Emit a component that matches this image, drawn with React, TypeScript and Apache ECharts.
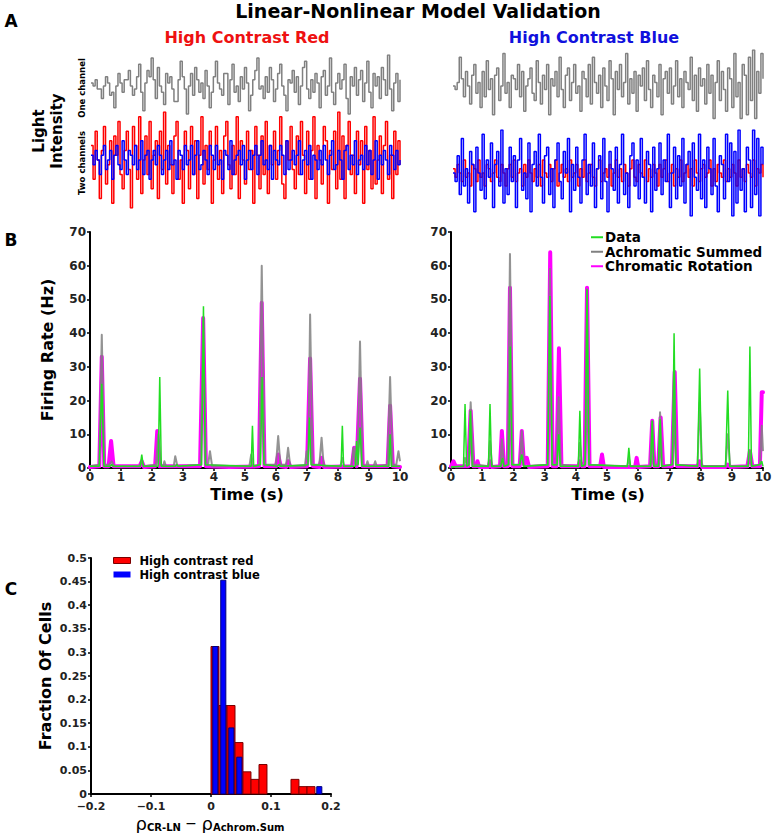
import React, { useEffect, useRef } from "react";
import * as echarts from "echarts";

const FONT = "DejaVu Sans";

// ---------- Panel A: stimulus traces (arbitrary units, -10..10) ----------
const A_LEFT_ONE = [
  1,0,2,-1,-1,-4,0,3,1,-3, -2,-7,0,4,1,-2,2,2,5,0, -3,-1,3,7,-2,-8,1,5,3,9,
  2,-4,6,0,-2,-6,4,1,3,-1, -5,-5,2,8,3,-1,-9,0,4,-3, 6,2,-2,1,-4,5,0,-7,-2,3,
  8,1,-1,-3,4,4,-6,2,7,-2, 0,-5,3,-1,6,1,-8,-3,2,5, 9,-1,0,-4,3,-2,6,2,-5,-1,
  4,7,0,-3,-8,2,1,5,-2,3, -6,0,6,8,-1,-4,2,-2,4,1, -7,3,5,-3,0,9,-2,-6,1,4,
  -1,2,7,-4,-9,3,0,6,-3,2, 5,-5,1,8,-2,-7,4,0,3,-4, 6,2,-3,10,-1,-8,1,4,-5,2,
];
const A_LEFT_RED = [
  3,-4,6,0,-8,2,7,-5,-1,4, -9,5,1,8,-3,-6,2,6,-2,-10, 7,3,-4,9,-7,0,5,-3,8,-6,
  1,4,-8,6,-2,10,-5,3,-1,-7, 5,8,-4,0,-9,6,2,-6,7,-3, 4,-8,1,9,-5,3,-2,6,-9,0,
  7,-4,2,-7,5,8,-1,-6,3,-3, 9,-8,4,0,-5,6,-2,2,-9,7, 1,-6,5,-3,8,-7,3,-1,6,-4,
  2,9,-5,-8,4,0,7,-2,-6,5, -3,8,1,-7,6,-4,2,9,-8,3, 0,-5,7,4,-9,2,-2,6,-6,10,
  -4,5,-8,3,8,-3,1,-7,6,-1, 4,-9,7,-2,2,-6,9,-5,0,5, -7,3,8,-4,1,-8,6,-3,4,-1,
];
const A_LEFT_BLUE = [
  1,-1,2,0,-3,1,3,-2,0,2, -4,1,3,-1,-2,4,0,-3,2,1, -1,3,-2,0,4,-3,1,2,-4,0,
  2,-1,3,1,-3,0,2,-2,4,-1, 0,-4,2,1,-2,3,-1,0,3,-3, 1,4,-2,-1,2,0,-3,3,1,-2,
  3,-1,0,-4,2,1,-2,4,-3,0, 1,2,-1,3,-4,0,2,-2,1,3, -3,1,4,-1,0,-2,3,-4,2,0,
  -1,3,1,-3,4,-2,0,2,-1,1, 4,-3,0,2,-1,3,-4,1,0,-2, 2,-1,3,0,-3,1,4,-2,-1,2,
  0,-4,2,3,-2,1,-1,4,-3,0, 1,-2,3,-1,2,-3,0,4,-4,1, -1,2,0,-3,3,1,-2,2,-1,0,
];
const A_RIGHT_ONE = [
  0,-1,1,8,2,-3,4,0,-5,3, 6,-2,1,-6,4,-3,7,-1,2,-8, 3,5,-4,0,9,-2,1,-6,3,2,
  -1,6,-3,4,-7,0,2,5,-2,-4, 7,1,-5,3,-1,6,-8,2,0,4, -3,8,-1,-6,3,5,-4,1,6,-2,
  0,-7,4,2,-3,6,-5,8,1,-2, 3,-6,5,0,-4,7,2,-8,4,-1, 6,-3,1,9,-5,2,-2,4,-7,3,
  0,5,-4,7,-1,-6,3,1,-3,6, -8,2,4,-2,5,-5,0,7,-3,2, -6,4,1,-1,8,-4,3,-7,5,0,
  2,-5,6,-2,3,-9,1,7,-4,4, -1,-7,5,2,-6,9,-3,1,-9,6, 3,-8,8,-4,10,-9,4,-2,9,2,
];
const A_RIGHT_RED = [
  1,-1,2,0,-2,3,-1,0,-3,2, 1,-2,3,-1,0,-3,2,1,-2,0, 3,-1,-2,2,0,-3,1,2,-1,3,
  -2,0,1,-3,2,-1,3,0,-2,1, -1,2,-3,3,0,-1,2,-2,1,3, -3,0,2,-1,1,-2,3,-1,0,2,
  -3,1,-1,3,-2,0,2,-1,-3,1, 3,-2,0,1,-1,2,-3,0,3,-1, 1,-2,2,0,-3,1,3,-1,-2,2,
  0,-1,3,-2,1,-1,2,0,-3,2, -1,1,3,-2,0,2,-3,1,-1,3, -2,0,2,-1,1,-3,3,0,-2,1,
  2,-1,0,3,-3,1,-2,2,0,-1, 3,-2,1,-1,2,0,-3,3,-1,1, -2,2,0,-1,3,-3,1,0,2,-1,
];
const A_RIGHT_BLUE = [
  0,-2,4,-5,8,-3,1,-7,5,2, -9,6,0,-4,9,-6,3,-1,7,-8, 2,5,-3,10,-7,1,-5,6,-2,4,
  -8,3,8,-4,0,-6,7,-9,2,5, -3,9,-1,-7,4,6,-5,1,-8,3, 7,-2,-6,5,0,8,-9,2,-4,6,
  -1,-7,3,9,-5,2,-3,7,-8,1, 4,-6,8,-2,-9,5,1,-4,6,-7, 2,9,-5,0,-8,4,7,-3,3,-6,
  8,-1,-7,5,2,-9,6,-4,1,7, -5,3,-2,9,-8,0,6,-6,4,-3, 8,-7,2,5,-10,7,-1,-4,9,-6,
  3,-8,6,1,-5,8,-3,-9,4,2, -6,9,-2,7,-10,5,-7,10,-4,1, -9,6,3,-8,10,-5,8,-10,6,2,
];

// ---------- Panel B: firing rate (Hz) vs time (s) ----------
const B_LEFT_DATA = [[0,0.5],[0.3,0.5],[0.38,25],[0.45,0.5],[0.65,0.5],[0.7,1],[0.75,0.5],[1.62,0.5],[1.67,4],[1.72,0.5],[2.2,0.5],[2.25,27],[2.3,0.5],[2.75,0.5],[2.8,1],[2.85,0.5],[3.6,1],[3.66,48],[3.72,1],[5.2,0.5],[5.24,12.5],[5.28,0.5],[5.5,1],[5.55,27],[5.61,1],[6.05,0.5],[6.1,1],[6.15,0.5],[7.03,1],[7.08,15],[7.13,1],[8.1,0.5],[8.14,12.5],[8.18,0.5],[8.56,0.5],[8.6,8],[8.65,1],[8.71,12],[8.77,0.5],[9.64,0.5],[9.68,10],[9.72,0.5],[10,0.5]];
const B_LEFT_ACH = [[0,0.5],[0.3,1],[0.38,39.5],[0.46,1],[0.62,1],[0.7,2],[0.78,0.5],[1.6,0.5],[1.67,2],[1.74,0.5],[2.13,1],[2.2,10],[2.28,1],[2.36,0.5],[2.4,2],[2.45,0.5],[2.7,0.5],[2.75,3.5],[2.82,0.5],[3.57,1],[3.65,44.5],[3.74,1],[3.81,1],[3.87,5],[3.94,0.5],[5.14,0.5],[5.2,4],[5.27,0.5],[5.46,1],[5.54,60],[5.63,1],[6.0,1],[6.07,9.5],[6.14,1],[6.33,1],[6.39,6],[6.46,0.5],[6.93,0.5],[6.99,5],[7.04,2],[7.1,45.5],[7.18,1],[7.4,1],[7.47,9],[7.54,0.5],[8.08,0.5],[8.14,3],[8.2,0.5],[8.44,0.5],[8.5,6],[8.57,1],[8.63,1],[8.71,37.5],[8.79,1],[8.9,0.5],[8.95,2],[9.0,0.5],[9.15,0.5],[9.2,2],[9.25,0.5],[9.6,1],[9.68,27],[9.76,1],[9.88,1],[9.95,5],[10,2]];
const B_LEFT_CR = [[0,0.3],[0.3,0.5],[0.38,33],[0.46,0.5],[0.6,0.5],[0.68,8],[0.76,0.5],[1.6,0.5],[1.67,2],[1.74,0.3],[2.1,0.5],[2.17,11],[2.25,0.5],[3.55,0.5],[3.65,44.5],[3.74,0.5],[4.5,0.3],[5.45,0.5],[5.54,49],[5.63,0.5],[6.0,0.5],[6.07,4],[6.15,0.5],[6.33,0.3],[6.39,2],[6.47,0.3],[7.0,0.5],[7.1,32.5],[7.19,0.5],[7.4,0.3],[7.47,3],[7.55,0.3],[8.45,0.5],[8.52,6],[8.6,0.5],[8.71,26.5],[8.8,0.5],[9.6,0.5],[9.68,18.5],[9.77,0.5],[10,0.3]];
const B_RIGHT_DATA = [[0,0.3],[0.4,0.5],[0.45,19],[0.5,0.5],[0.58,1],[0.62,17],[0.68,0.5],[1.2,0.5],[1.25,19],[1.3,0.5],[1.6,0.5],[1.65,3],[1.7,0.5],[1.85,1],[1.9,36],[1.95,1],[2.2,1],[2.27,4],[2.33,0.5],[3.1,1],[3.17,51],[3.24,1],[3.4,1],[3.45,10],[3.5,0.5],[4.08,0.5],[4.13,17],[4.18,0.5],[4.3,1],[4.36,53],[4.42,1],[5.65,0.5],[5.7,6],[5.75,0.5],[6.4,0.5],[6.45,14],[6.5,0.5],[6.65,0.5],[6.7,14.5],[6.75,0.5],[7.1,1],[7.15,40],[7.2,1],[7.9,0.5],[7.97,29.5],[8.03,0.5],[8.8,0.5],[8.87,23],[8.93,0.5],[9.53,0.5],[9.58,36],[9.63,0.5],[9.9,1],[9.96,2],[10,0.5]];
const B_RIGHT_ACH = [[0,0.3],[0.4,0.5],[0.45,3],[0.5,1],[0.56,1],[0.63,19.5],[0.72,1],[0.85,1],[1.2,0.5],[1.25,8],[1.32,0.5],[1.58,0.5],[1.63,8.5],[1.7,0.5],[1.82,1],[1.89,63.5],[1.97,1],[2.2,1],[2.27,11],[2.34,0.5],[3.1,1],[3.17,59],[3.25,1],[3.38,1],[3.45,21],[3.52,1],[4.08,0.5],[4.13,7.5],[4.2,0.5],[4.3,1],[4.36,53],[4.43,1],[5.65,0.5],[5.7,3],[5.75,0.5],[6.38,0.5],[6.45,14],[6.5,1],[6.65,1],[6.7,16.5],[6.78,0.5],[7.08,1],[7.15,29],[7.22,1],[7.9,0.5],[7.97,19.5],[8.05,0.5],[8.8,0.5],[8.87,10],[8.95,0.5],[9.5,0.5],[9.58,5],[9.65,0.5],[9.9,1],[9.96,12.5],[10,5]];
const B_RIGHT_CR = [[0,0.5],[0.08,2],[0.15,0.5],[0.55,0.5],[0.63,17],[0.72,0.5],[0.8,0.5],[0.85,2],[0.9,0.3],[1.2,0.3],[1.25,2],[1.3,0.3],[1.57,0.5],[1.63,11],[1.7,0.5],[1.82,0.5],[1.89,53.5],[1.97,0.5],[2.2,0.5],[2.27,11],[2.34,1],[2.43,3],[2.5,0.3],[3.1,0.5],[3.18,64],[3.26,0.5],[3.38,0.5],[3.46,35.5],[3.54,0.5],[4.08,0.5],[4.13,2],[4.2,0.5],[4.28,0.5],[4.36,53.5],[4.44,0.5],[4.78,0.5],[4.84,4],[4.9,0.3],[5.9,0.3],[5.95,3],[6.0,0.3],[6.38,0.5],[6.45,14],[6.52,0.5],[6.64,0.5],[6.72,15],[6.8,0.5],[7.08,0.5],[7.17,28.5],[7.25,0.5],[7.9,0.5],[7.97,2],[8.05,0.3],[8.8,0.3],[8.87,1],[8.95,0.3],[9.5,0.5],[9.58,5],[9.66,0.5],[9.9,0.5],[9.96,22.5],[10,22.5]];
const TIME_MAX = 10;
const RATE_MAX = 70;

// ---------- Panel C: histogram ----------
const BIN_WIDTH = 0.0133;
const BIN_STARTS = [0, 0.0133, 0.0267, 0.04, 0.0533, 0.0667, 0.08, 0.0933, 0.1067, 0.12, 0.1333, 0.1467, 0.16, 0.1733];
const RED_FRACTION = [0.3125, 0.1875, 0.1875, 0.109, 0.047, 0.031, 0.0625, 0, 0, 0, 0.031, 0.0156, 0.0156, 0];
const BLUE_FRACTION = [0.3125, 0.453, 0.14, 0.078, 0, 0, 0, 0, 0, 0, 0, 0, 0, 0.0156];

const GREEN = "#22dd22";
const GRAY = "#808080";
const MAGENTA = "#ff00ff";

function buildOption() {
  const aTraces = [
    { data: A_LEFT_ONE, grid: 0, color: GRAY },
    { data: A_LEFT_RED, grid: 1, color: "#ff0000" },
    { data: A_LEFT_BLUE, grid: 1, color: "#0000ff" },
    { data: A_RIGHT_ONE, grid: 2, color: GRAY },
    { data: A_RIGHT_RED, grid: 3, color: "#ff0000" },
    { data: A_RIGHT_BLUE, grid: 3, color: "#0000ff" },
  ];
  const grids = [
    { left: 91, top: 55, width: 309, height: 62 },
    { left: 91, top: 112, width: 309, height: 96 },
    { left: 453, top: 50, width: 310, height: 72 },
    { left: 453, top: 130, width: 310, height: 86 },
    { left: 90, top: 232, width: 310, height: 236 },
    { left: 451, top: 232, width: 312, height: 236 },
    { left: 91, top: 558, width: 240, height: 236 },
  ].map((g) => ({ ...g, outerBoundsMode: "none", containLabel: false }));

  const axisLine = { show: true, onZero: false, lineStyle: { color: "#000", width: 2 } };
  const axisTick = { show: true, length: 3, lineStyle: { color: "#000", width: 1.5 } };
  const tickLabel = (size: number) => ({ fontFamily: FONT, fontWeight: "bold", fontSize: size, color: "#222" });

  const xAxis: any[] = aTraces.map((t) => ({
    gridIndex: t.grid,
    type: "category",
    show: false,
    boundaryGap: false,
    data: t.data.map((_, k) => k),
  }));
  const yAxis: any[] = [0, 1, 2, 3].map((g) => ({ gridIndex: g, type: "value", show: false, min: -10, max: 10 }));

  [4, 5].forEach((g) => {
    xAxis.push({
      gridIndex: g, type: "value", min: 0, max: TIME_MAX, interval: 1,
      axisLine, axisTick, splitLine: { show: false },
      axisLabel: { ...tickLabel(12), margin: 3 },
    });
    yAxis.push({
      gridIndex: g, type: "value", min: 0, max: RATE_MAX, interval: 10,
      axisLine, axisTick, splitLine: { show: false },
      axisLabel: { ...tickLabel(12), margin: 4 },
    });
  });
  xAxis.push({
    gridIndex: 6, type: "value", min: -0.2, max: 0.2, interval: 0.1,
    axisLine, axisTick, splitLine: { show: false },
    axisLabel: { ...tickLabel(11), margin: 7, formatter: (v: number) => String(+v.toFixed(2)).replace("-", "\u2212") },
  });
  yAxis.push({
    gridIndex: 6, type: "value", min: 0, max: 0.5, interval: 0.05,
    axisLine, axisTick, splitLine: { show: false },
    axisLabel: { ...tickLabel(11), margin: 4, formatter: (v: number) => String(+v.toFixed(2)) },
  });

  const series: any[] = aTraces.map((t, i) => ({
    type: "line", xAxisIndex: i, yAxisIndex: t.grid, data: t.data, step: "end",
    showSymbol: false, silent: true,
    lineStyle: { color: t.color, width: 1.5 },
  }));

  const bPanels = [
    { x: 6, y: 4, cr: B_LEFT_CR, ach: B_LEFT_ACH, data: B_LEFT_DATA },
    { x: 7, y: 5, cr: B_RIGHT_CR, ach: B_RIGHT_ACH, data: B_RIGHT_DATA },
  ];
  bPanels.forEach((p) => {
    series.push({
      name: "Chromatic Rotation", type: "line", xAxisIndex: p.x, yAxisIndex: p.y, data: p.cr,
      showSymbol: false, itemStyle: { color: MAGENTA },
      lineStyle: { color: MAGENTA, width: 4, join: "round", cap: "round" },
    });
    series.push({
      name: "Achromatic Summed", type: "line", xAxisIndex: p.x, yAxisIndex: p.y, data: p.ach,
      showSymbol: false, itemStyle: { color: GRAY },
      lineStyle: { color: GRAY, width: 2, opacity: 0.85, join: "round" },
    });
    series.push({
      name: "Data", type: "line", xAxisIndex: p.x, yAxisIndex: p.y, data: p.data,
      showSymbol: false, itemStyle: { color: GREEN },
      lineStyle: { color: GREEN, width: 1.5 },
    });
  });

  const histBars = (fractions: number[], name: string, fill: string, stroke: string, from: number, to: number) => ({
    name, type: "custom", xAxisIndex: 8, yAxisIndex: 6,
    itemStyle: { color: fill, borderColor: stroke },
    encode: { x: 0, y: 1 },
    data: BIN_STARTS.map((s, i) => [s, fractions[i]]).filter((d) => d[1] > 0),
    renderItem: (params: any, api: any) => {
      const s = api.value(0);
      const v = api.value(1);
      const p0 = api.coord([s + BIN_WIDTH * from, 0]);
      const p1 = api.coord([s + BIN_WIDTH * to, v]);
      return {
        type: "rect",
        shape: { x: p0[0], y: p1[1], width: p1[0] - p0[0], height: p0[1] - p1[1] },
        style: { fill, stroke, lineWidth: 1 },
      };
    },
  });
  series.push(histBars(RED_FRACTION, "High contrast red", "#ff0000", "#7a0000", 0, 1));
  series.push(histBars(BLUE_FRACTION, "High contrast blue", "#0000ff", "#00007a", 0.22, 0.86));

  const txt = (text: string, x: number, y: number, size: number, opts: any = {}) => ({
    type: "text", x, y, rotation: opts.rotation || 0, silent: true,
    style: {
      text, fill: opts.color || "#000", fontFamily: FONT, fontWeight: opts.weight || "bold", fontSize: size,
      textAlign: "center", textVerticalAlign: "middle", align: "center", verticalAlign: "middle",
    },
  });
  const R = Math.PI / 2;
  const graphic = [
    txt("Linear-Nonlinear Model Validation", 418, 11, 19),
    txt("A", 11, 21, 17),
    txt("B", 11, 240, 17),
    txt("C", 11, 589, 17),
    txt("High Contrast Red", 247, 37, 16, { color: "#ee1111" }),
    txt("High Contrast Blue", 594, 37, 16, { color: "#1111dd" }),
    txt("Light", 39, 131, 15, { rotation: R }),
    txt("Intensity", 57, 131, 15, { rotation: R }),
    txt("One channel", 82, 88, 8.5, { rotation: R }),
    txt("Two channels", 82, 163, 8.5, { rotation: R }),
    txt("Firing Rate (Hz)", 47, 350, 16, { rotation: R }),
    txt("Time (s)", 247, 494, 16),
    txt("Time (s)", 608, 494, 16),
    txt("Fraction Of Cells", 45, 676, 16, { rotation: R }),
    {
      type: "text", x: 210, y: 823, silent: true,
      style: {
        text: "{r|\u03c1}{s|CR-LN}{o| \u2212 }{r|\u03c1}{s|Achrom.Sum}",
        fontFamily: FONT, fontSize: 14, fill: "#000",
        textAlign: "center", textVerticalAlign: "middle", align: "center", verticalAlign: "middle",
        rich: {
          r: { fontFamily: FONT, fontSize: 18, lineHeight: 18, fill: "#000", color: "#000" },
          s: { fontFamily: FONT, fontSize: 10, lineHeight: 18, fontWeight: "bold", fill: "#000", color: "#000", verticalAlign: "bottom" },
          o: { fontFamily: FONT, fontSize: 14, lineHeight: 18, fill: "#000", color: "#000" },
        },
      },
    },
  ];

  return {
    animation: false,
    backgroundColor: "#fff",
    grid: grids,
    xAxis, yAxis, series, graphic,
    legend: [
      {
        left: 586, top: 225, orient: "vertical", itemGap: 0, itemWidth: 12, itemHeight: 2,
        icon: "rect", selectedMode: false,
        data: ["Data", "Achromatic Summed", "Chromatic Rotation"],
        textStyle: { fontFamily: FONT, fontWeight: "bold", fontSize: 13.5, color: "#000", lineHeight: 14.5, padding: [0, 0, 0, -3] },
      },
      {
        left: 108, top: 549, orient: "vertical", itemGap: 1, itemWidth: 17, itemHeight: 6,
        selectedMode: false,
        data: [
          { name: "High contrast red", icon: "rect", itemStyle: { color: "#ff0000", borderColor: "#7a0000", borderWidth: 1 } },
          { name: "High contrast blue", icon: "rect", itemStyle: { color: "#0000ff", borderColor: "#0000ff", borderWidth: 0 } },
        ],
        textStyle: { fontFamily: FONT, fontWeight: "bold", fontSize: 11.5, color: "#000", lineHeight: 13, padding: [0, 0, 0, 4] },
      },
    ],
  };
}

export default function App() {
  const ref = useRef<HTMLDivElement>(null);
  useEffect(() => {
    const chart = echarts.init(ref.current!, null, { renderer: "svg" });
    chart.setOption(buildOption() as any);
    return () => chart.dispose();
  }, []);
  return (
    <div
      ref={ref}
      style={{ position: "absolute", left: 0, top: 0, width: 775, height: 833, background: "#fff" }}
    />
  );
}
